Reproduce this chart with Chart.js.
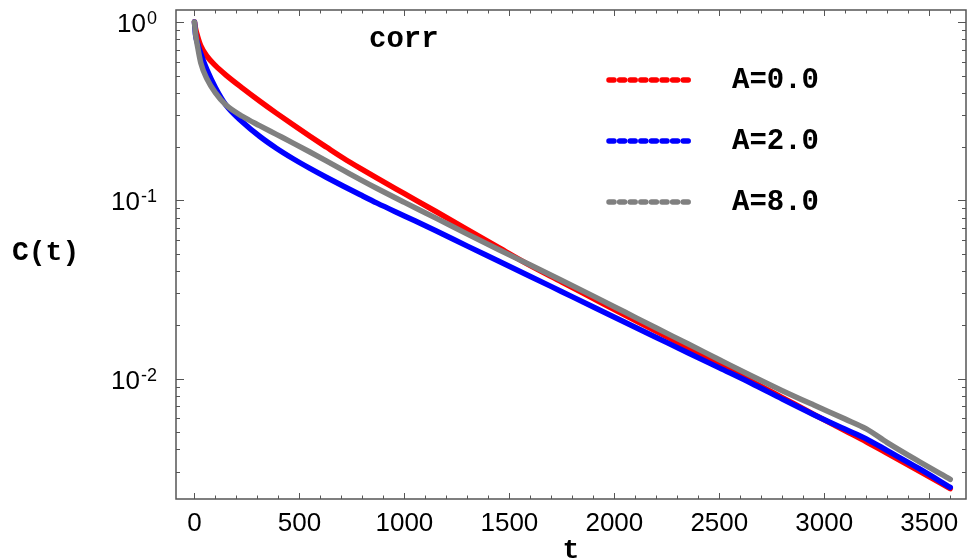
<!DOCTYPE html>
<html>
<head>
<meta charset="utf-8">
<script src="https://cdn.jsdelivr.net/npm/chart.js@4/dist/chart.umd.min.js"></script>
<style>
html,body{margin:0;padding:0;background:#fff;}
#wrap{width:970px;height:560px;position:relative;}
</style>
</head>
<body>
<div id="wrap"><canvas id="c" width="970" height="560"></canvas></div>
<script>
// ---- data ----
const tValues = [0,5,15,30,60,100,150,230,310,390,470,550,630,710,790,870,1000,1150,1300,1450,1600,1750,1900,2050,2200,2350,2500,2650,2800,2950,3100,3200,3300,3450,3600];
const corrA0 = [1.0,0.92,0.83,0.735,0.641,0.569,0.504,0.4246,0.3606,0.3083,0.2649,0.2286,0.1982,0.1722,0.1510,0.1330,0.1089,0.0865,0.0684,0.0542,0.0430,0.0348,0.0281,0.0227,0.0184,0.01483,0.0120,0.0097,0.00782,0.00630,0.00509,0.00442,0.00381,0.00304,0.00241];
const corrA2 = [1.0,0.85,0.759,0.664,0.537,0.428,0.342,0.2742,0.2286,0.1959,0.1710,0.1510,0.1343,0.1199,0.1074,0.0964,0.0817,0.0675,0.0553,0.0455,0.0374,0.0307,0.0252,0.0207,0.0170,0.01396,0.01148,0.00944,0.00767,0.00627,0.00519,0.00459,0.00394,0.00313,0.00245];
const corrA8 = [1.0,0.86,0.727,0.59,0.478,0.40,0.342,0.2951,0.2624,0.2344,0.2094,0.1866,0.1660,0.1472,0.1306,0.1164,0.0973,0.0794,0.0646,0.0528,0.0433,0.0355,0.0290,0.0236,0.0192,0.01567,0.01276,0.0104,0.00855,0.0071,0.00592,0.00522,0.00437,0.00343,0.00272];
const seriesLabels = ['A=0.0','A=2.0','A=8.0'];
const xTickValues = [0,500,1000,1500,2000,2500,3000,3500];
const yDecadeTicks = [1, 0.1, 0.01];
const yDecadeExponents = ['0','-1','-2'];
const xTitle = 't';
const yTitle = 'C(t)';
const annotationText = 'corr';

// ---- styles ----
const colors = ['#ff0000','#0000ff','#808080'];
const LINE_W = 5.5;
const AXIS_COLOR = '#555555';

function pts(vals){ return tValues.map((t,i)=>({x:t,y:vals[i]})); }

const decor = {
  id:'decor',
  beforeDatasetsDraw(chart){
    const {ctx, chartArea:a, scales:{x,y}} = chart;
    ctx.save();
    ctx.strokeStyle = AXIS_COLOR;
    ctx.lineWidth = 1;
    const ln=(x1,y1,x2,y2)=>{ctx.beginPath();ctx.moveTo(x1,y1);ctx.lineTo(x2,y2);ctx.stroke();};
    for (let v=0; v<=3600; v+=100){
      const px = Math.round(x.getPixelForValue(v))+0.5;
      const L = (v%500===0)?6:3.5;
      ln(px,a.bottom,px,a.bottom-L);
      ln(px,a.top,px,a.top+L);
    }
    for (let e=-3;e<=0;e++){
      for (let m=1;m<=9;m++){
        const v = m*Math.pow(10,e);
        if (v < y.min || v > y.max) continue;
        const py = Math.round(y.getPixelForValue(v))+0.5;
        const L = (m===1)?8:4;
        ln(a.left,py,a.left+L,py);
        ln(a.right,py,a.right-L,py);
      }
    }
    ctx.lineWidth = 1.5;
    ctx.strokeRect(a.left, a.top, a.right-a.left, a.bottom-a.top);
    ctx.restore();
  },
  afterDraw(chart){
    const {ctx, chartArea:a, scales:{x,y}} = chart;
    ctx.save();
    ctx.fillStyle = '#000';
    ctx.textBaseline = 'alphabetic';
    yDecadeTicks.forEach((v,i)=>{
      const py = y.getPixelForValue(v);
      const exp = yDecadeExponents[i];
      ctx.textAlign = 'right';
      ctx.font = '18px "Liberation Sans"';
      const ew = ctx.measureText(exp).width;
      ctx.fillText(exp, 157, py+2);
      ctx.font = '26px "Liberation Sans"';
      ctx.fillText('10', 157-ew-1, py+10);
    });
    ctx.font = 'bold 28px "Liberation Mono"';
    ctx.textAlign = 'center';
    ctx.fillText(xTitle, (a.left+a.right)/2, 558);
    ctx.textAlign = 'left';
    ctx.fillText(yTitle, 12, 260);
    ctx.font = 'bold 29px "Liberation Mono"';
    ctx.fillText(annotationText, 369, 47);
    const rows = [80, 141, 202];
    seriesLabels.forEach((lab,i)=>{
      const yy = rows[i];
      ctx.save();
      ctx.strokeStyle = colors[i];
      ctx.lineWidth = LINE_W;
      ctx.lineCap = 'round';
      ctx.setLineDash([5, 5.6]);
      ctx.beginPath(); ctx.moveTo(609, yy); ctx.lineTo(689, yy); ctx.stroke();
      ctx.restore();
      ctx.fillStyle = '#000';
      ctx.font = 'bold 29px "Liberation Mono"';
      ctx.textAlign = 'left';
      ctx.fillText(lab, 732, yy+8);
    });
    ctx.restore();
  }
};

const ds = [corrA0, corrA2, corrA8].map((vals,i)=>({
  label: seriesLabels[i],
  data: pts(vals),
  borderColor: colors[i],
  backgroundColor: colors[i],
  borderWidth: LINE_W,
  pointRadius: 0,
  cubicInterpolationMode: 'monotone',
  borderCapStyle: 'round',
  borderJoinStyle: 'round',
  order: 3-i
}));

new Chart(document.getElementById('c'), {
  type: 'line',
  data: { datasets: ds },
  options: {
    responsive: false,
    animation: false,
    devicePixelRatio: 1,
    layout: { padding: { left: 176, right: 4, top: 10, bottom: 0 } },
    plugins: { legend: { display: false }, tooltip: { enabled: false } },
    scales: {
      x: {
        type: 'linear', min: -88, max: 3675,
        grid: { display: false, drawTicks: false },
        border: { display: false },
        afterBuildTicks: (s)=>{ s.ticks = xTickValues.map(v=>({value:v})); },
        afterFit: (s)=>{ s.height = 61; },
        ticks: { color: '#000', font: { family: 'Liberation Sans', size: 26 }, padding: 9, maxRotation: 0, autoSkip: false,
                 callback: (v)=>String(v) }
      },
      y: {
        type: 'logarithmic', min: 0.00211, max: 1.168,
        display: false
      }
    }
  },
  plugins: [decor]
});
</script>
</body>
</html>
